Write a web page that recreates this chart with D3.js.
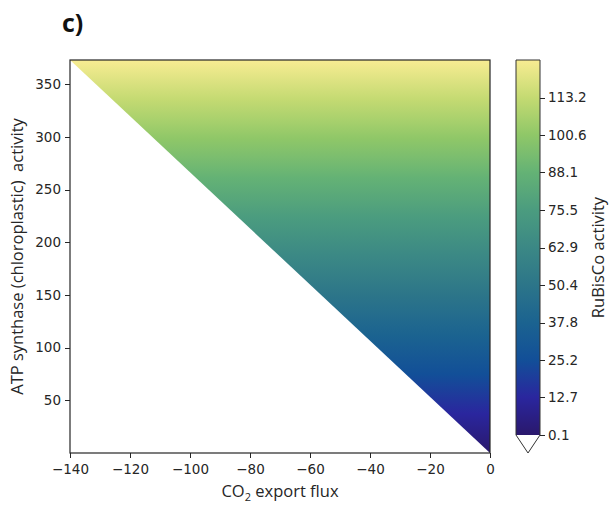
<!DOCTYPE html>
<meta charset="utf-8">
<style>
    body { margin: 0; background: #fff; }
    .axis text { font: 13.5px "DejaVu Sans", sans-serif; fill: #262626; }
    .axis path, .axis line { stroke: #262626; stroke-width: 1px; shape-rendering: crispEdges; }
    .label { font: 16.5px "Open Sans", "Noto Sans", sans-serif; fill: #262626; }
</style>
<body>
<svg width="611" height="506"></svg>
<script src="https://d3js.org/d3.v7.min.js"></script>
<script>
    // feasible region corners (CO2 export flux, ATP synthase activity)
    var regionX = [-140, 0, 0];
    var regionY = [373, 373, 0];
    var xTicks = [-140, -120, -100, -80, -60, -40, -20, 0];
    var yTicks = [50, 100, 150, 200, 250, 300, 350];
    // RuBisCo activity: colour bar range and ticks
    var cbRange = [0.1, 125.8];
    var cbTicks = [0.1, 12.7, 25.2, 37.8, 50.4, 62.9, 75.5, 88.1, 100.6, 113.2];
    // haline-like colour map
    var cmap = ["#2a186c", "#2a269e", "#124f98", "#1b6390", "#2c7589", "#3b8885",
                "#4b9c7f", "#64b275", "#8fc768", "#c4da72", "#f8ec92"];

    var svg = d3.select("svg"),
        margin = {top: 60, left: 70},
        width = 420,
        height = 393;

    var x = d3.scaleLinear().domain([-140, 0]).range([0, width]);
    var y = d3.scaleLinear().domain([0, 373]).range([height, 0]);
    var colour = d3.scaleLinear()
        .domain(d3.range(cmap.length).map(function(i) { return i / (cmap.length - 1); }))
        .range(cmap);

    var defs = svg.append("defs");

    function addGradient(id, y1, y2) {
        var gr = defs.append("linearGradient")
            .attr("id", id)
            .attr("gradientUnits", "userSpaceOnUse")
            .attr("x1", 0).attr("x2", 0)
            .attr("y1", y1).attr("y2", y2);
        d3.range(0, 1.0001, 0.05).forEach(function(t) {
            gr.append("stop").attr("offset", t).attr("stop-color", colour(t));
        });
    }

    svg.append("text")
        .attr("x", 62).attr("y", 32)
        .style("font", "bold 25px 'Open Sans', sans-serif")
        .style("fill", "#111")
        .text("c)");

    var g = svg.append("g")
        .attr("transform", "translate(" + margin.left + "," + margin.top + ")");

    addGradient("fillGrad", y(0), y(373));

    var pts = regionX.map(function(d, i) { return [x(d), y(regionY[i])]; });
    g.append("path")
        .attr("d", d3.line()(pts) + "Z")
        .attr("fill", "url(#fillGrad)");

    g.append("g")
        .attr("class", "axis")
        .attr("transform", "translate(0," + height + ")")
        .call(d3.axisBottom(x).tickValues(xTicks).tickSize(5).tickPadding(6)
            .tickFormat(function(d) { return d3.format("d")(d).replace("-", "\u2212"); }))
        .call(function(a) { a.select(".domain").remove(); });

    g.append("g")
        .attr("class", "axis")
        .call(d3.axisLeft(y).tickValues(yTicks).tickSize(5).tickPadding(4))
        .call(function(a) { a.select(".domain").remove(); });

    g.append("rect")
        .attr("width", width).attr("height", height)
        .attr("fill", "none")
        .attr("stroke", "#262626")
        .attr("stroke-width", 1.2);

    var xl = svg.append("text")
        .attr("class", "label")
        .attr("text-anchor", "middle")
        .attr("x", margin.left + width / 2)
        .attr("y", 497);
    xl.append("tspan").text("CO");
    xl.append("tspan").attr("dy", 4).style("font-size", "11px").text("2");
    xl.append("tspan").attr("dy", -4).text(" export flux");

    svg.append("text")
        .attr("class", "label")
        .attr("text-anchor", "middle")
        .attr("transform", "translate(23," + (margin.top + height / 2) + ") rotate(-90)")
        .text("ATP synthase (chloroplastic)\u00a0 activity");

    // colour bar
    var cbX = 516, cbW = 24, cbTop = 60, cbBottom = 435, cbTip = 453;
    var cy = d3.scaleLinear().domain(cbRange).range([cbBottom, cbTop]);

    addGradient("cbGrad", cbBottom, cbTop);

    svg.append("rect")
        .attr("x", cbX).attr("y", cbTop)
        .attr("width", cbW).attr("height", cbBottom - cbTop)
        .attr("fill", "url(#cbGrad)");

    svg.append("path")
        .attr("d", "M" + cbX + "," + cbBottom + "L" + (cbX + cbW / 2) + "," + cbTip +
            "L" + (cbX + cbW) + "," + cbBottom)
        .attr("fill", "#fff");

    svg.append("path")
        .attr("d", "M" + cbX + "," + cbBottom + "V" + cbTop + "H" + (cbX + cbW) + "V" + cbBottom +
            "L" + (cbX + cbW / 2) + "," + cbTip + "Z")
        .attr("fill", "none")
        .attr("stroke", "#333")
        .attr("stroke-width", 1);

    svg.append("g")
        .attr("class", "axis")
        .attr("transform", "translate(" + (cbX + cbW) + ",0)")
        .call(d3.axisRight(cy).tickValues(cbTicks).tickSize(5).tickPadding(3)
            .tickFormat(d3.format(".1f")))
        .call(function(a) { a.select(".domain").remove(); });

    svg.append("text")
        .attr("class", "label")
        .attr("text-anchor", "middle")
        .attr("transform", "translate(604," + (cbTop + (cbBottom - cbTop) / 2 + 10) + ") rotate(-90)")
        .text("RuBisCo activity");
</script>
</body>
